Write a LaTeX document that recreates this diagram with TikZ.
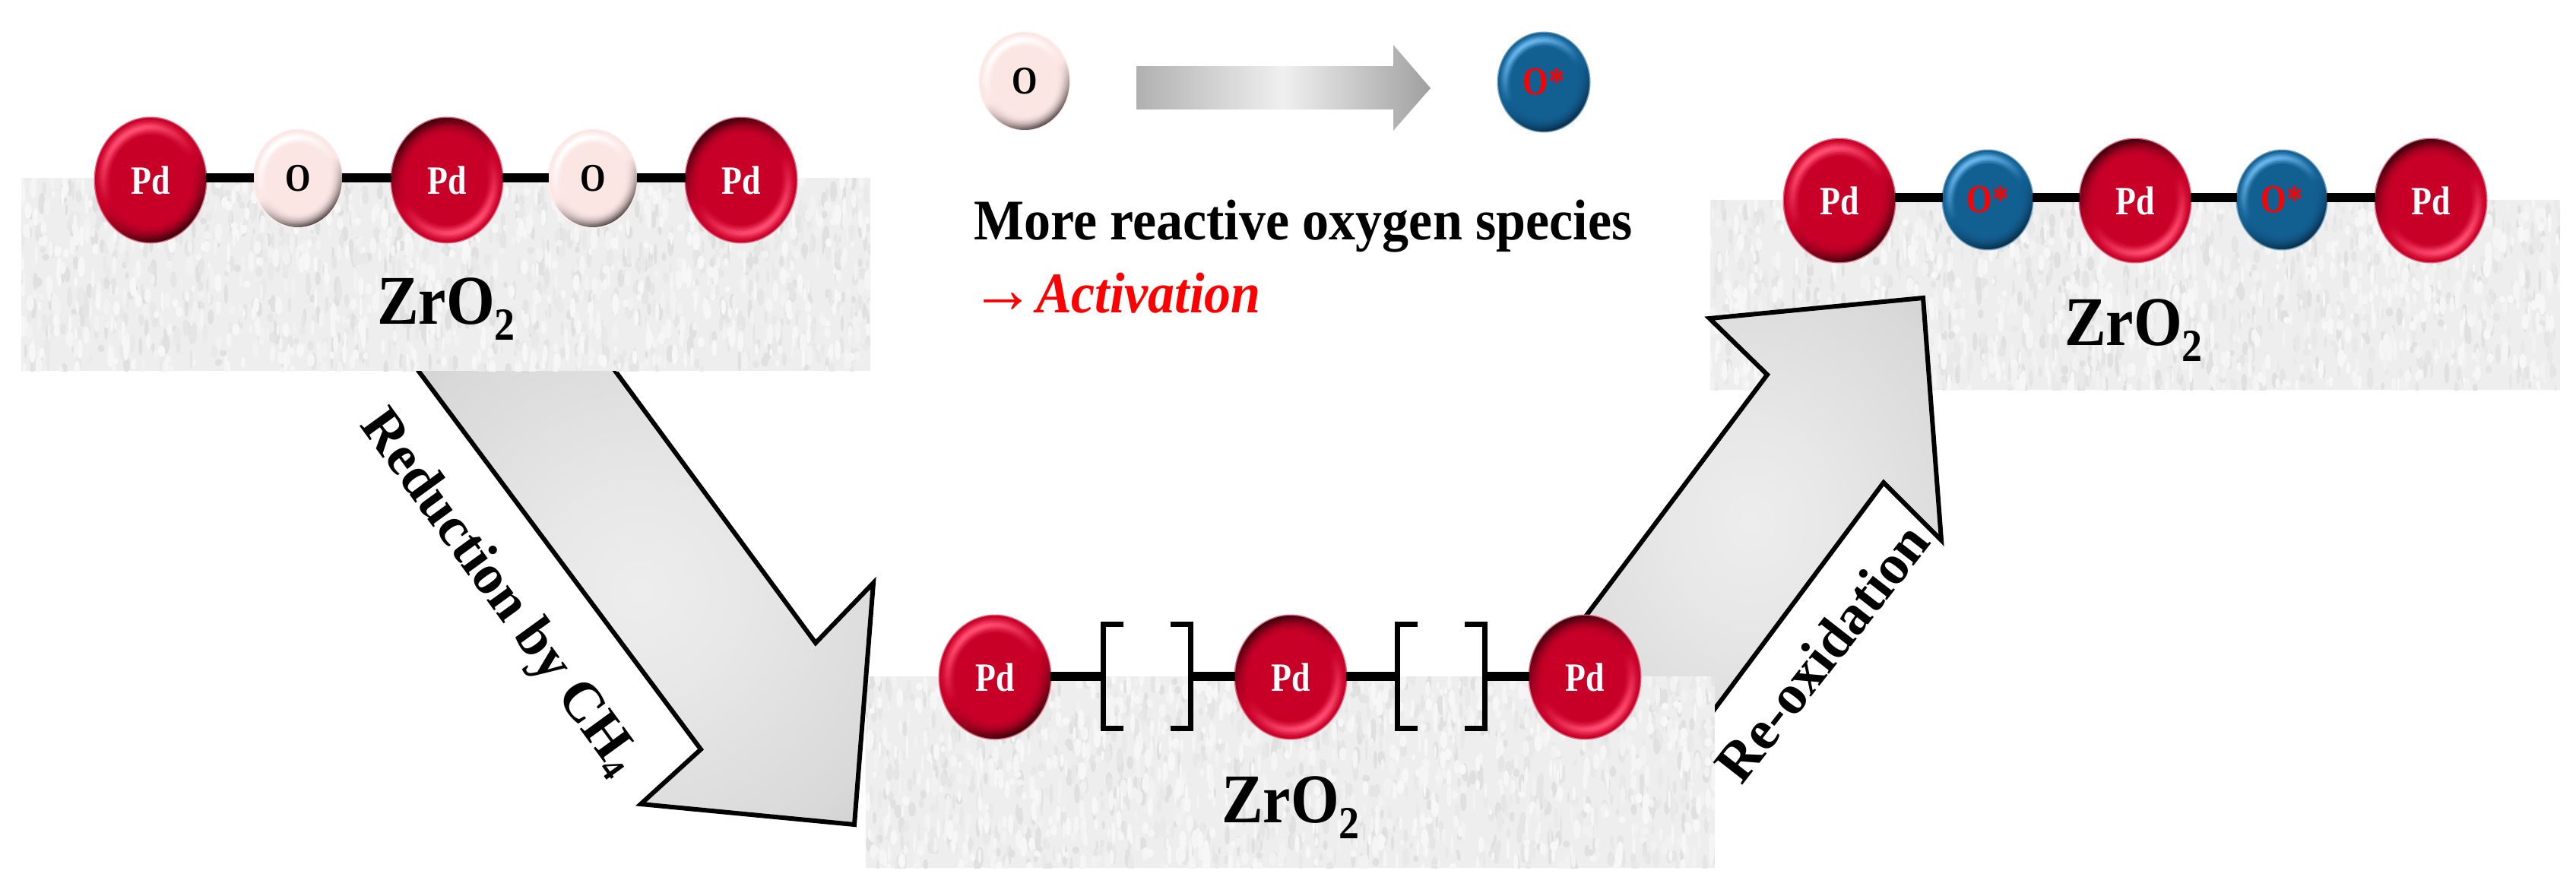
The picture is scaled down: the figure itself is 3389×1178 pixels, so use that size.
\documentclass[tikz,border=0pt]{standalone}
\usepackage{fontspec}
\usepackage{graphicx}
\setmainfont{Liberation Serif}
\usetikzlibrary{shapes.geometric}
\definecolor{Pbase}{HTML}{C80028}\definecolor{Pdark}{HTML}{3E000C}\definecolor{Pbright}{HTML}{FF4C70}
\definecolor{Wbase}{HTML}{FBE6E4}\definecolor{Wdark}{HTML}{5E5252}\definecolor{Wbright}{HTML}{FFFFFF}
\definecolor{Bbase}{HTML}{125F92}\definecolor{Bdark}{HTML}{0A2F4C}\definecolor{Bbright}{HTML}{66B4EC}
\pgfdeclareradialshading{arrowglow}{\pgfpointorigin}{%
  color(0bp)=(black!7);
  color(10bp)=(black!9);
  color(30bp)=(black!15);
  color(50bp)=(black!27);
  color(71bp)=(black!42)}
\tikzset{
  atomnode/.style={ellipse,inner sep=0pt,font=\bfseries},
  bond/.style={line width=12pt,black},
  bracket/.style={line width=7pt,black,line cap=butt,line join=miter},
  vacancy/.style={rectangle,inner sep=0pt,minimum width=114pt,minimum height=137pt},
  blockarrow/.style={draw=black,line width=6pt,line join=miter,shading=arrowglow},
  formula/.style={inner sep=0pt,anchor=base,font=\bfseries},
  slanted label/.style={inner sep=0pt,anchor=base,font=\bfseries\fontsize{74}{74}\selectfont},
}
% #1 name, #2 x, #3 y, #4 rx, #5 ry, #6 angle of the lit side, #7 palette, #8 label
\newcommand{\ball}[8]{%
  \fill[#7base!60!white] (#2,#3) ellipse [x radius=#4pt+1.5pt,y radius=#5pt+1.5pt];
  \foreach \s/\l/\d in {1/0/100,.97/20/85,.94/45/68,.91/75/50,.88/100/36,.85/100/24,.82/75/14,.79/45/7,.76/20/3,.73/0/0}{%
    \colorlet{edgeL}{#7bright!\l!#7base}%
    \colorlet{edgeD}{#7dark!\d!#7base}%
    \pgfmathsetmacro\rxx{\s*#4}\pgfmathsetmacro\ryy{\s*#5}%
    \shade[top color=edgeL,bottom color=edgeD,middle color=#7base,shading angle=#6]
      (#2,#3) ellipse [x radius=\rxx pt,y radius=\ryy pt];
  }%
  \node[atomnode,minimum width=2*#4pt,minimum height=2*#5pt] (#1) at (#2,#3) {#8};
}
\newcommand{\pdlabel}{\textcolor{white}{\scalebox{1}[1.2]{\fontsize{44}{44}\selectfont Pd}}}
\newcommand{\olabel}{\textcolor{black}{\scalebox{1}[1.2]{\fontsize{43}{43}\selectfont O}}}
\newcommand{\oslabel}{\textcolor{red}{\scalebox{1}[1.2]{\fontsize{43}{43}\selectfont O*}}}
\newcommand{\zro}{\scalebox{1}[1.12]{\fontsize{82}{82}\selectfont ZrO\raisebox{-19pt}{\fontsize{54}{54}\selectfont 2}}}
% #1 x1, #2 y1, #3 x2, #4 y2, #5 seed
\newcommand{\slab}[5]{%
  \begin{scope}
    \clip (#1,#2) rectangle (#3,#4);
    \fill[white!93.5!black] (#1,#2) rectangle (#3,#4);
    \pgfmathsetseed{#5}%
    \foreach \tone in {88,90,91.5,95,96,97}{%
      \fill[white!\tone!black]
        \foreach \i in {1,...,300}{
          ({#1+rnd*(#3-#1)},{#2+rnd*(#4-#2)}) ellipse [x radius={1.5pt+rnd*3.5pt},y radius={4pt+rnd*10pt}]
        };
    }%
  \end{scope}%
}
\begin{document}
\begin{tikzpicture}[x=1pt,y=-1pt]
\useasboundingbox (0,0) rectangle (3389,1178);
\fill[white] (0,0) rectangle (3389,1178);
\coordinate (r1) at (0,234);
\coordinate (r2) at (0,890);
\coordinate (r3) at (0,260);

% top-right support and re-oxidation arrow
\slab{2250}{263}{3368}{513}{31}
\shadedraw[blockarrow] (2050,859) -- (2325,493) -- (2249,419) -- (2530,392) -- (2554,711) -- (2478,635) -- (2220,981) -- cycle;

% middle support
\slab{1139}{890}{2256}{1142}{17}

% reduction arrow
\shadedraw[blockarrow] (537,470) -- (922,986) -- (843,1058) -- (1124,1085) -- (1149,767) -- (1073,846) -- (796,470) -- cycle;

% top-left support
\slab{28}{234}{1145}{488}{5}

% row 1
\ball{a1}{198}{237}{73}{82}{30}{P}{\pdlabel}
\ball{a2}{392}{235}{58}{64}{30}{W}{\olabel}
\ball{a3}{588}{237}{73}{82}{210}{P}{\pdlabel}
\ball{a4}{780}{235}{58}{64}{30}{W}{\olabel}
\ball{a5}{975}{237}{73}{82}{210}{P}{\pdlabel}
\foreach \p/\q in {a1/a2,a2/a3,a3/a4,a4/a5}
  \draw[bond] (\p.east |- r1) -- (\q.west |- r1);
\node[formula] (z1) at (587,426) {\zro};

% row 2
\ball{b1}{1309}{891}{73}{81}{30}{P}{\pdlabel}
\ball{b3}{1698}{891}{73}{81}{210}{P}{\pdlabel}
\ball{b5}{2085}{891}{73}{81}{210}{P}{\pdlabel}
\node[vacancy] (v1) at (1509,890) {};
\node[vacancy] (v2) at (1896,890) {};
\foreach \v in {v1,v2}{
  \draw[bracket] ([xshift=26pt]\v.north west) -- (\v.north west) -- (\v.south west) -- ([xshift=26pt]\v.south west);
  \draw[bracket] ([xshift=-26pt]\v.north east) -- (\v.north east) -- (\v.south east) -- ([xshift=-26pt]\v.south east);
}
\foreach \p/\q in {b1/v1,v1/b3,b3/v2,v2/b5}
  \draw[bond] (\p.east |- r2) -- (\q.west |- r2);
\node[formula] (z2) at (1698,1082) {\zro};

% row 3
\ball{c1}{2420}{264}{73}{81}{30}{P}{\pdlabel}
\ball{c2}{2615}{263}{59}{65}{30}{B}{\oslabel}
\ball{c3}{2809}{264}{73}{81}{210}{P}{\pdlabel}
\ball{c4}{3002}{263}{59}{65}{30}{B}{\oslabel}
\ball{c5}{3198}{264}{73}{81}{210}{P}{\pdlabel}
\foreach \p/\q in {c1/c2,c2/c3,c3/c4,c4/c5}
  \draw[bond] (\p.east |- r3) -- (\q.west |- r3);
\node[formula] (z3) at (2807,454) {\zro};

% legend
\ball{d1}{1348}{107}{59}{64}{30}{W}{\olabel}
\ball{d2}{2031}{108}{60}{65}{30}{B}{\oslabel}
\shade[left color=gray!62,right color=gray!75,middle color=gray!12]
  (1495,87) -- (1833,87) -- (1833,59) -- (1882,116) -- (1833,172) -- (1833,144) -- (1495,144) -- cycle;
\node[inner sep=0pt,anchor=base west] (t1) at (1281,315)
  {\scalebox{1}[1.08]{\bfseries\fontsize{70}{70}\selectfont More reactive oxygen species}};
\node[inner sep=0pt,anchor=base west,text=red] (t2) at (1277,411)
  {\scalebox{1}[1.08]{\fontsize{84}{84}\selectfont →\hspace{2pt}\fontsize{70}{70}\selectfont\bfseries\itshape Activation}};

% arrow labels
\node[slanted label,rotate=-54] (l1) at (641,791)
  {Reduction by CH\raisebox{-11pt}{\fontsize{44}{44}\selectfont 4}};
\node[slanted label,rotate=52] (l2) at (2417,874) {Re-oxidation};
\end{tikzpicture}
\end{document}
